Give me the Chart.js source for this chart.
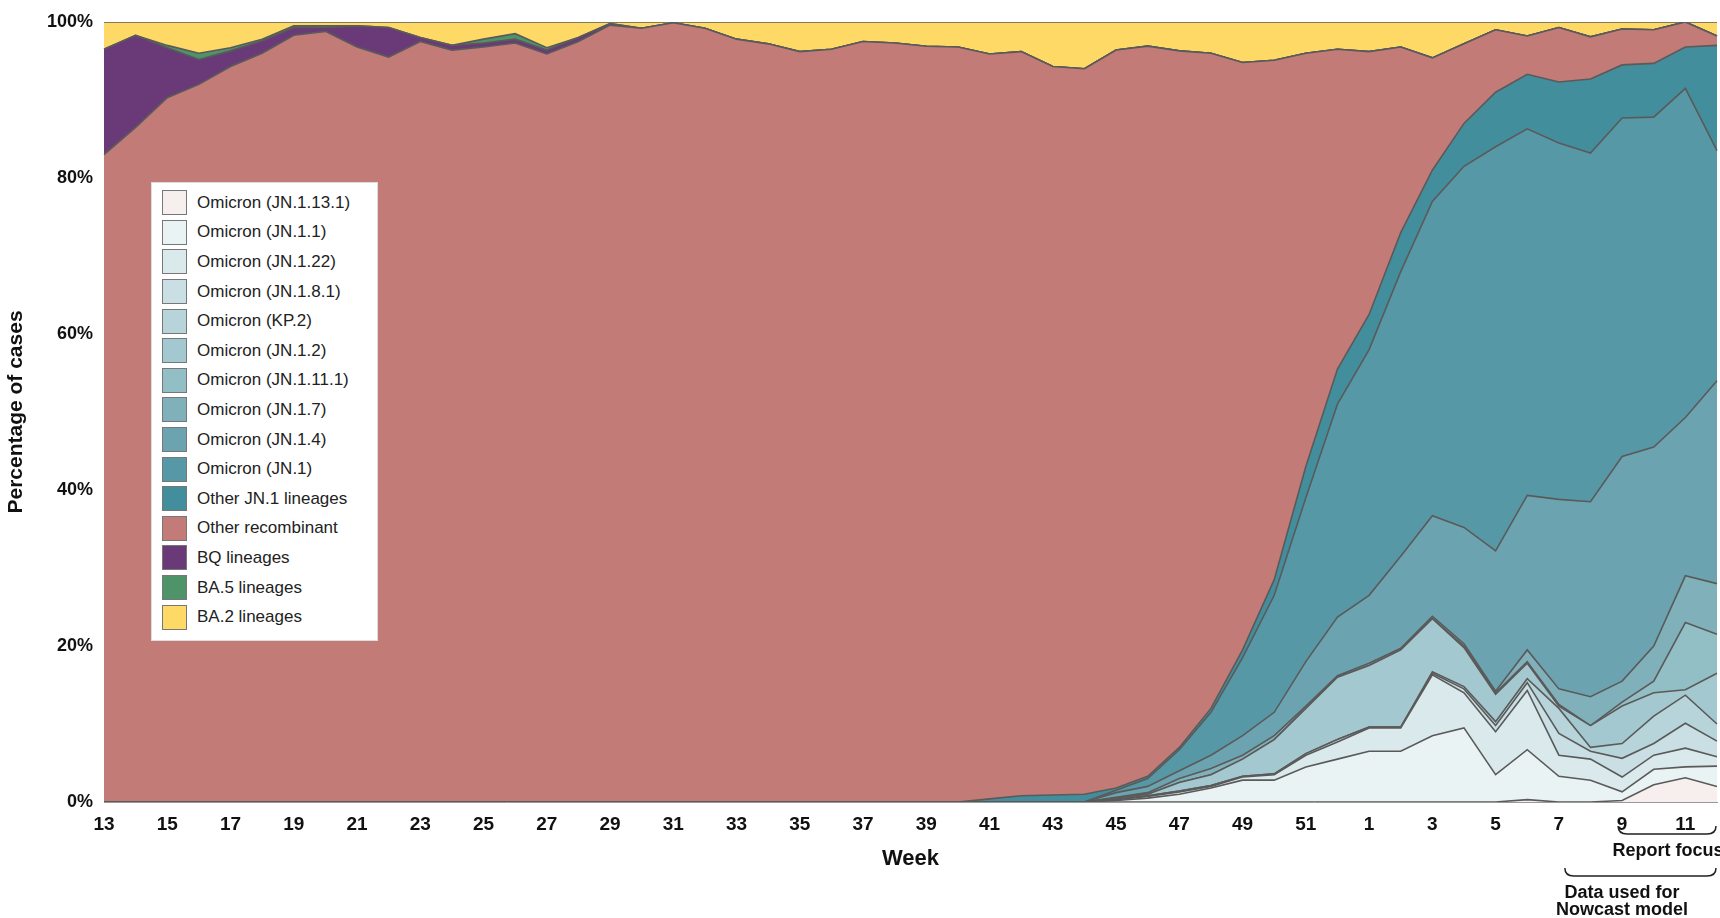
<!DOCTYPE html>
<html>
<head>
<meta charset="utf-8">
<script src="https://cdn.jsdelivr.net/npm/chart.js@4.4.1/dist/chart.umd.min.js"></script>
<style>
  body { margin: 0; background: #fff; font-family: Arial, "Liberation Sans", sans-serif; }
  #wrap { position: relative; width: 1720px; height: 918px; }
  #legend { position: absolute; left: 151px; top: 182px; width: 227px; height: 459px; background: #fff;
            box-sizing: border-box; padding: 5px 0 0 10px; border: 1px solid #ddd; }
  .row { display: flex; align-items: center; height: 29.6px; font-size: 17px; color: #222; }
  .sw { width: 25px; height: 25px; border: 1px solid #777; box-sizing: border-box; margin-right: 10px; }
</style>
</head>
<body>
<div id="wrap">
  <canvas id="c" width="1720" height="918"></canvas>
  <div id="legend"></div>
</div>
<script>
// Weeks 13..52 then 1..12
const weeks = ['13','14','15','16','17','18','19','20','21','22','23','24','25','26','27','28','29','30','31','32',
  '33','34','35','36','37','38','39','40','41','42','43','44','45','46','47','48','49','50','51','52',
  '1','2','3','4','5','6','7','8','9','10','11','12'];

// Cumulative upper boundaries (% of cases) of each band, bottom to top
const z32 = [0,0,0,0,0,0,0,0,0,0,0,0,0,0,0,0,0,0,0,0,0,0,0,0,0,0,0,0,0,0,0,0];
const topJN11331 = z32.concat([0,0,0,0,0,0,0,0,0,0,0,0,0,0.3,0,0,0.2,2.2,3.1,2]);
const topJN11 = z32.concat([0.2,0.5,1,1.8,2.8,2.8,4.5,5.5,6.5,6.5,8.5,9.5,3.5,6.7,3.3,2.8,1.3,4.2,4.5,4.6]);
const topJN122 = z32.concat([0.3,0.7,1.3,2,3.2,3.5,6,7.7,9.5,9.5,16.3,14,9,14.3,6,5.5,3.2,6,6.9,5.8]);
const topJN181 = z32.concat([0.3,0.8,1.4,2.1,3.3,3.6,6.2,8,9.6,9.6,16.5,14.5,9.8,15.3,8.8,6.5,5.6,7.5,10.1,7.8]);
const topKP2 = z32.concat([0.3,0.8,1.4,2.1,3.3,3.6,6.2,8,9.6,9.6,16.7,14.8,10.3,15.8,12,7,7.5,11,13.7,10]);
const topJN12 = z32.concat([0.5,1,2.5,3.5,5.5,8,12,16,17.5,19.5,23.5,19.8,13.8,17.8,12.3,9.8,12.3,14,14.4,16.5]);
const topJN1111 = z32.concat([0.5,1,2.5,3.5,5.5,8,12,16,17.5,19.5,23.5,20,14,18,12.5,9.8,12.8,15.5,23,21.5]);
const topJN17 = z32.concat([0.6,1.2,3,4.3,6,8.5,12.3,16.2,17.8,19.7,23.8,20.3,14.2,19.5,14.5,13.5,15.5,20,29,28]);
const topJN14 = z32.concat([1.2,2,4,6,8.5,11.5,18,23.7,26.5,31.5,36.7,35.2,32.2,39.3,38.8,38.5,44.3,45.5,49.3,54]);
const topJN1 = z32.concat([1.5,3,6.7,11.5,18.5,26.5,39,51,58,68,77,81.5,84,86.3,84.5,83.2,87.7,87.8,91.5,83.5]);
const topOtherJN1 = [0,0,0,0,0,0,0,0,0,0,0,0,0,0,0,0,0,0,0,0,0,0,0,0,0,0,0,0,0.4,0.8,0.9,1,
  1.8,3.3,7,12,19.5,28.5,43,55.5,62.5,73,81,87,91,93.3,92.3,92.7,94.5,94.7,96.8,97];
const topRecomb = [83,86.5,90.3,92,94.3,96,98.3,98.8,96.8,95.5,97.5,96.4,96.8,97.3,95.9,97.5,99.6,99.2,99.9,99.2,
  97.8,97.2,96.2,96.5,97.5,97.3,96.9,96.8,95.9,96.2,94.3,94,96.4,96.9,96.3,96,94.8,95.1,96,96.5,
  96.2,96.8,95.4,97.2,99,98.2,99.3,98.1,99.1,99,100,98.2];
const topBQ = [96.5,98.3,96.7,95.2,96.3,97.6,99.3,99.3,99.5,99.3,98,97,97.3,97.8,96.4,98,99.8,99.2,99.9,99.2,
  97.8,97.2,96.2,96.5,97.5,97.3,96.9,96.8,95.9,96.2,94.3,94,96.4,96.9,96.3,96,94.8,95.1,96,96.5,
  96.2,96.8,95.4,97.2,99,98.2,99.3,98.1,99.1,99,100,98.2];
const topBA5 = [96.5,98.3,97,96,96.7,97.8,99.5,99.5,99.5,99.3,98,97,97.8,98.5,96.7,98,99.8,99.2,99.9,99.2,
  97.8,97.2,96.2,96.5,97.5,97.3,96.9,96.8,95.9,96.2,94.3,94,96.4,96.9,96.3,96,94.8,95.1,96,96.5,
  96.2,96.8,95.4,97.2,99,98.2,99.3,98.1,99.1,99,100,98.2];
const topBA2 = weeks.map(() => 100);

const series = [
  ['Omicron (JN.1.13.1)', topJN11331, '#F7EEEE'],
  ['Omicron (JN.1.1)', topJN11, '#EAF3F4'],
  ['Omicron (JN.1.22)', topJN122, '#DAE9EC'],
  ['Omicron (JN.1.8.1)', topJN181, '#C9DFE3'],
  ['Omicron (KP.2)', topKP2, '#B7D4DA'],
  ['Omicron (JN.1.2)', topJN12, '#A4C8CF'],
  ['Omicron (JN.1.11.1)', topJN1111, '#92BEC6'],
  ['Omicron (JN.1.7)', topJN17, '#80B1BB'],
  ['Omicron (JN.1.4)', topJN14, '#6BA4B0'],
  ['Omicron (JN.1)', topJN1, '#5798A6'],
  ['Other JN.1 lineages', topOtherJN1, '#438E9C'],
  ['Other recombinant', topRecomb, '#C27B76'],
  ['BQ lineages', topBQ, '#6A3A78'],
  ['BA.5 lineages', topBA5, '#4E9468'],
  ['BA.2 lineages', topBA2, '#FFD966']
];

const datasets = series.map((s, i) => ({
  label: s[0], data: s[1], backgroundColor: s[2], borderColor: '#5a5a5a', borderWidth: 1.6,
  pointRadius: 0, tension: 0, fill: i === 0 ? 'origin' : '-1'
}));

// legend
const lg = document.getElementById('legend');
series.forEach(s => {
  const r = document.createElement('div');
  r.className = 'row';
  r.innerHTML = '<div class="sw" style="background:' + s[2] + '"></div>' + s[0];
  lg.appendChild(r);
});

const brackets = {
  id: 'brackets',
  afterDraw(chart) {
    const c = chart.ctx, x = chart.scales.x;
    function br(x1, x2, y) {
      c.beginPath();
      c.moveTo(x1, y - 8); c.quadraticCurveTo(x1, y, x1 + 9, y);
      c.lineTo(x2 - 9, y); c.quadraticCurveTo(x2, y, x2, y - 8);
      c.stroke();
    }
    c.save();
    c.strokeStyle = '#222'; c.lineWidth = 1.5;
    c.fillStyle = '#111'; c.font = 'bold 18px Arial'; c.textAlign = 'center'; c.textBaseline = 'middle';
    br(x.getPixelForValue(48) - 4, 1716, 834);
    c.fillText('Report focus', 1668, 851);
    br(x.getPixelForValue(46) + 6, 1716, 876);
    c.fillText('Data used for', 1622, 893);
    c.fillText('Nowcast model', 1622, 910);
    c.restore();
  }
};

new Chart(document.getElementById('c'), {
  type: 'line',
  data: { labels: weeks, datasets: datasets },
  options: {
    responsive: false,
    animation: false,
    layout: { padding: { top: 22, right: 0, left: 0, bottom: 42 } },
    plugins: { legend: { display: false }, tooltip: { enabled: false } },
    scales: {
      x: {
        offset: false,
        afterFit(s) { s.height = 74; },
        grid: { display: false, drawTicks: true, tickLength: 8, color: '#aaa' },
        border: { color: '#999' },
        ticks: {
          autoSkip: false, maxRotation: 0, color: '#111', font: { size: 19, weight: 'bold' },
          callback(v) { const w = parseInt(weeks[v]); return w % 2 ? weeks[v] : ''; }
        },
        title: { display: true, text: 'Week', color: '#111', font: { size: 22, weight: 'bold' }, padding: { top: 10 } }
      },
      y: {
        min: 0, max: 100,
        afterFit(s) { s.width = 104; },
        grid: { display: false },
        border: { display: false },
        ticks: { stepSize: 20, color: '#111', font: { size: 18, weight: 'bold' }, callback: v => v + '%' },
        title: { display: true, text: 'Percentage of cases', color: '#111', font: { size: 21, weight: 'bold' } }
      }
    }
  },
  plugins: [brackets]
});
</script>
</body>
</html>
